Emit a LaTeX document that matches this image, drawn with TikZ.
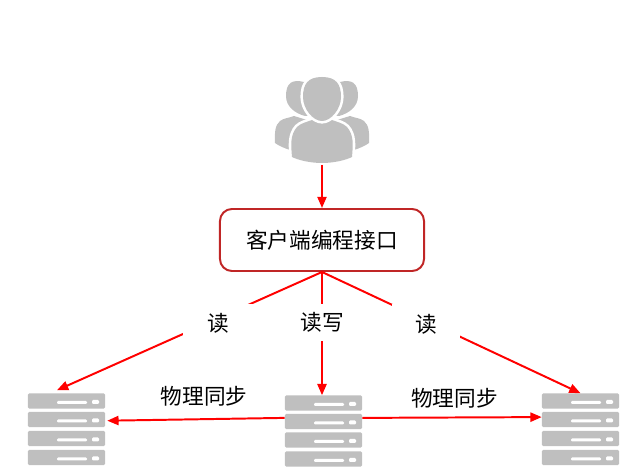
\documentclass[tikz,border=0pt]{standalone}
\usepackage{fontspec}
\setmainfont{Noto Sans CJK SC}
\usetikzlibrary{arrows.meta}
\definecolor{srvgray}{HTML}{BFBFBF}
\definecolor{boxred}{HTML}{C02626}
\tikzset{
	link/.style={draw=red, line width=1.4pt, -{Triangle[length=8pt,width=6.5pt]}},
	word/.style={font=\fontsize{15.4pt}{15.4pt}\selectfont, inner sep=0pt},
	gapword/.style={word, fill=white, minimum height=1cm},
	srv/.style={fill=srvgray, rounded corners=0.8pt, inner sep=0pt, minimum width=1.925cm, minimum height=0.375cm,
		path picture={
			\fill[white] ([shift={(-9.5,0)}]path picture bounding box.center) rectangle ([shift={(20.5,3)}]path picture bounding box.center);
			\fill[white] ([shift={(25.5,-1)}]path picture bounding box.center) rectangle ([shift={(32.5,3)}]path picture bounding box.center);
		}},
	halo/.style={fill=srvgray, preaction={draw=white, line width=0.13cm}},
	sidefig/.pic={
		\fill[srvgray] (-18,82) .. controls (-30,79) and (-36,83) .. (-36,96) .. controls (-36,106) and (-28,113) .. (-17,116) -- (-10,116) -- (-10,82) -- cycle;
		\fill[srvgray] (-47,143) .. controls (-47.5,133) and (-47,125) .. (-42,121) .. controls (-38,118) and (-33,118) .. (-28,116) -- (-15,120) -- (-15,155) -- (-32,150) .. controls (-38,148) and (-43,146) .. (-47,143) -- cycle;
	}
}

\begin{document}
\begin{tikzpicture}[x=0.025cm, y=-0.025cm]
	\useasboundingbox (0,0) rectangle (640,472);
	
	% users
	\begin{scope}[shift={(322,0)}]
		\pic {sidefig};
		\pic[xscale=-1] {sidefig};
		\path[halo] (0,163) .. controls (-12,163) and (-24,160) .. (-30,157) .. controls (-31,145) and (-32,135) .. (-25,127) .. controls (-21,123) and (-15,122) .. (-10,120) -- (10,120) .. controls (15,122) and (21,123) .. (25,127) .. controls (32,135) and (31,145) .. (30,157) .. controls (24,160) and (12,163) .. (0,163) -- cycle;
		\path[halo] (0,77) .. controls (14,77) and (19,84) .. (19,97) .. controls (19,109) and (9,121) .. (0,121) .. controls (-9,121) and (-19,109) .. (-19,97) .. controls (-19,84) and (-14,77) .. (0,77) -- cycle;
	\end{scope}
	\coordinate (user) at (322,165);
	
	\node [draw=boxred, line width=1.4pt, rounded corners=0.3cm, minimum width=5.1cm, minimum height=1.55cm, word] (client) at (322,240){客户端编程接口};
	
	% servers
	\node [srv] (L1) at (66.5,401){};
	\node [srv] (L2) at (66.5,419.5){};
	\node [srv] (L3) at (66.5,438.5){};
	\node [srv] (L4) at (66.5,457.5){};
	
	\node [srv] (C1) at (323.5,403){};
	\node [srv] (C2) at (323.5,421.5){};
	\node [srv] (C3) at (323.5,440){};
	\node [srv] (C4) at (323.5,459){};
	
	\node [srv] (R1) at (580.5,401){};
	\node [srv] (R2) at (580.5,419.5){};
	\node [srv] (R3) at (580.5,438.5){};
	\node [srv] (R4) at (580.5,457.5){};
	
	\draw[link] (user) -- (client.north);
	\draw[link] (client.south) -- ([shift={(-9.5,-3)}]L1.north);
	\draw[link] (client.south) -- (client.south |- C1.north);
	\draw[link] (client.south) -- (R1.north);
	\draw[link] ([yshift=0.09cm]C2.west) -- ([xshift=0.05cm,yshift=-0.03cm]L2.east);
	\draw[link] ([yshift=0.09cm]C2.east) -- ([yshift=0.06cm]R2.west);
	
	\node [gapword, minimum width=1.75cm, minimum height=0.95cm] (readL) at (218,323){读};
	\node [gapword, minimum width=1.3cm, minimum height=0.925cm] (readC) at (322,322.5){读写};
	\node [gapword, minimum width=1.7cm] (readR) at (426,324){读};
	
	\node [word] (syncL) at (204,396){物理同步};
	\node [word] (syncR) at (454.5,398){物理同步};
	
\end{tikzpicture}
\end{document}
